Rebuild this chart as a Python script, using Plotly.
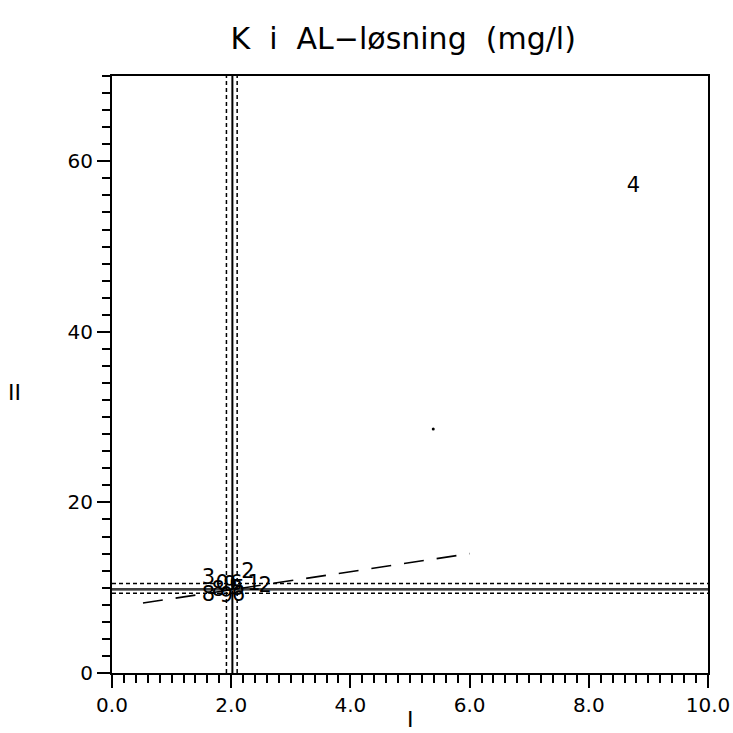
import plotly.graph_objects as go

# ---- data ----
title_text = "K  i  AL\u2212l\u00f8sning  (mg/l)"
x_title = "I"
y_title = "II"

# sample labels (plotted as text at their coordinates)
sample_labels = ["4", "2", "3", "8", "0", "9", "6", "5", "8", "9", "6", "1", "2"]
sample_x = [8.75, 2.28, 1.62, 1.62, 1.85, 1.98, 2.08, 2.12, 1.78, 1.92, 2.12, 2.38, 2.57]
sample_y = [57.0, 11.8, 11.0, 9.0, 10.4, 10.2, 10.3, 9.8, 9.6, 8.9, 9.1, 10.4, 10.1]

# stray point
dot_x = [5.39]
dot_y = [28.6]

# mean and confidence lines
mean_x = 2.02
ci_x = [1.92, 2.10]
mean_y = 9.85
mean_y2 = 9.68
ci_y = [9.35, 10.5]

# regression line (dashed)
reg_x = [0.52, 6.0]
reg_y = [8.2, 14.0]

x_range = [0, 10]
y_range = [0, 70]
x_ticks = [0, 2, 4, 6, 8, 10]
y_ticks = [0, 20, 40, 60]

FONT = "DejaVu Sans, Liberation Sans, sans-serif"

fig = go.Figure()

# vertical lines
fig.add_trace(go.Scatter(x=[mean_x, mean_x], y=y_range, mode="lines",
                         line=dict(color="black", width=2), hoverinfo="skip"))
for cx in ci_x:
    fig.add_trace(go.Scatter(x=[cx, cx], y=y_range, mode="lines",
                             line=dict(color="black", width=1.5, dash="4px,3px"), hoverinfo="skip"))
# horizontal lines
fig.add_trace(go.Scatter(x=x_range, y=[mean_y, mean_y], mode="lines",
                         line=dict(color="black", width=1.6), hoverinfo="skip"))
fig.add_trace(go.Scatter(x=x_range, y=[mean_y2, mean_y2], mode="lines",
                         line=dict(color="#555555", width=0.8), hoverinfo="skip"))
for cy in ci_y:
    fig.add_trace(go.Scatter(x=x_range, y=[cy, cy], mode="lines",
                             line=dict(color="black", width=1.5, dash="4px,3px"), hoverinfo="skip"))
# regression line
fig.add_trace(go.Scatter(x=reg_x, y=reg_y, mode="lines",
                         line=dict(color="black", width=1.6, dash="20px,13px"), hoverinfo="skip"))
# stray dot
fig.add_trace(go.Scatter(x=dot_x, y=dot_y, mode="markers",
                         marker=dict(color="black", size=3), hoverinfo="skip"))
# sample labels
fig.add_trace(go.Scatter(x=sample_x, y=sample_y, mode="text", text=sample_labels,
                         textposition="middle center",
                         textfont=dict(family=FONT, size=21, color="black")))

axis_common = dict(showgrid=False, zeroline=False, showline=True, linecolor="black",
                   linewidth=2, mirror=True, ticks="outside", tickcolor="black",
                   tickwidth=2, ticklen=13, automargin=False,
                   tickfont=dict(family=FONT, size=20, color="black"))

fig.update_xaxes(range=x_range, tickvals=x_ticks, tickformat=".1f",
                 minor=dict(dtick=0.2, ticks="outside", ticklen=8, tickwidth=1.5, tickcolor="black"),
                 **axis_common)
fig.update_yaxes(range=y_range, tickvals=y_ticks,
                 minor=dict(dtick=2, ticks="outside", ticklen=8, tickwidth=1.5, tickcolor="black"),
                 **axis_common)

fig.update_layout(
    width=733, height=733,
    margin=dict(l=112, r=25, t=76, b=60, autoexpand=False),
    paper_bgcolor="white", plot_bgcolor="white",
    showlegend=False,
    title=dict(text=title_text, x=0.55, xanchor="center", y=0.947, yanchor="middle",
               font=dict(family=FONT, size=30, color="black")),
    annotations=[
        dict(text=y_title, xref="paper", yref="paper", x=-0.163, y=0.47,
             xanchor="center", yanchor="middle", showarrow=False,
             font=dict(family=FONT, size=22, color="black")),
        dict(text=x_title, xref="paper", yref="paper", x=0.5, y=-0.078,
             xanchor="center", yanchor="middle", showarrow=False,
             font=dict(family=FONT, size=22, color="black")),
    ],
)

fig.write_html("out.html")
